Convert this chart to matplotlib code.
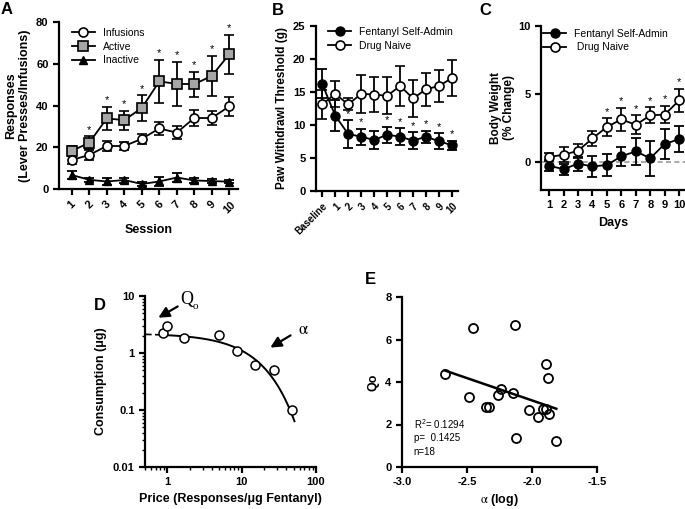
import numpy as np
import matplotlib
matplotlib.use("Agg")
import matplotlib.pyplot as plt
from matplotlib.ticker import LogLocator, NullFormatter

plt.rcParams['font.family'] = ['Liberation Sans', 'DejaVu Sans']
plt.rcParams['mathtext.fontset'] = 'stix'
plt.rcParams['axes.linewidth'] = 1.6

# --- A: self-administration
sessions = np.arange(1, 11)
inf_mean = [13.9, 16.3, 20.6, 20.6, 24.0, 29.0, 27.0, 34.0, 34.0, 39.6]
inf_err = [1.8, 2.5, 2.5, 2.0, 2.5, 3.0, 3.0, 4.0, 3.5, 4.5]
act_mean = [18.2, 22.2, 33.8, 33.0, 38.8, 51.5, 50.4, 50.2, 54.2, 64.5]
act_err = [2.2, 3.0, 5.5, 4.5, 6.0, 10.5, 10.5, 6.0, 9.7, 9.5]
inact_mean = [6.7, 4.4, 3.6, 4.3, 2.4, 3.6, 5.5, 4.1, 3.8, 3.5]
inact_err = [2.0, 1.0, 1.5, 1.2, 1.0, 2.0, 2.0, 1.0, 0.8, 0.7]
a_sig = [2, 3, 4, 5, 6, 7, 8, 9, 10]

# --- B: paw withdrawal
b_labels = ['Baseline', '1', '2', '3', '4', '5', '6', '7', '8', '9', '10']
b_fent = [16.2, 11.4, 8.6, 8.2, 7.7, 8.5, 8.2, 7.6, 8.2, 7.5, 6.9]
b_fent_err = [2.2, 2.4, 2.1, 1.2, 1.3, 1.2, 1.3, 1.3, 0.9, 1.2, 0.7]
b_naive = [13.1, 14.7, 13.1, 14.7, 14.6, 14.4, 15.9, 14.0, 15.4, 15.9, 17.1]
b_naive_err = [2.2, 2.0, 0.9, 2.9, 2.6, 2.8, 3.1, 2.8, 2.5, 2.4, 2.8]
b_sig = [2, 3, 5, 6, 7, 8, 9, 10]

# --- C: body weight
days = np.arange(1, 11)
c_fent = [-0.25, -0.5, -0.1, -0.3, -0.2, 0.45, 0.8, 0.3, 1.35, 1.7]
c_fent_err = [0.4, 0.4, 0.5, 0.8, 0.8, 0.7, 1.0, 1.3, 1.1, 0.95]
c_naive = [0.4, 0.55, 0.85, 1.75, 2.6, 3.15, 2.75, 3.45, 3.5, 4.55]
c_naive_err = [0.3, 0.55, 0.5, 0.55, 0.65, 0.85, 0.7, 0.6, 0.65, 0.85]
c_sig = [5, 6, 7, 8, 9, 10]

# --- D: demand curve
price = [0.886, 1.0, 1.67, 4.94, 8.6, 15.1, 26.9, 47.5]
consumption = [2.2, 3.0, 1.85, 2.03, 1.1, 0.61, 0.51, 0.10]
q0_fit = 2.2
decay_fit = 0.03  # log10 drop per unit price

# --- E: Q0 vs alpha
alpha_log = [-2.672, -2.456, -2.133, -2.485, -2.351, -2.333, -2.262, -2.238, -2.146,
             -2.026, -1.956, -1.913, -1.895, -1.872, -1.890, -1.879, -2.126, -1.813]
q0_vals = [4.36, 6.54, 6.67, 3.29, 2.82, 2.82, 3.37, 3.65, 3.48,
           2.70, 2.37, 2.71, 2.71, 2.48, 4.83, 4.17, 1.36, 1.21]

W, H = 685, 509
fig = plt.figure(figsize=(W / 100, H / 100), dpi=100)


def px_axes(left, top, right, bottom):
    return fig.add_axes([left / W, 1 - bottom / H, (right - left) / W, (bottom - top) / H])


def style(ax):
    for s in ['top', 'right']:
        ax.spines[s].set_visible(False)
    ax.tick_params(direction='out', length=4, width=1.6, labelsize=8)
    for lab in ax.get_xticklabels() + ax.get_yticklabels():
        lab.set_fontweight('bold')


eb = dict(color='k', lw=1.3, capsize=3.5, capthick=1.3, elinewidth=1.3)


def stars(ax, xs, ys, sig):
    for x, y in zip(xs, ys):
        if x in sig:
            ax.annotate('*', (x, y), xytext=(0, 1), textcoords='offset points',
                        ha='center', va='bottom', fontsize=8)


# A
ax = px_axes(59, 22, 238, 189)
ax.errorbar(sessions, inact_mean, yerr=inact_err, marker='^', ms=6, mfc='k', mec='k', **eb)
ax.errorbar(sessions, act_mean, yerr=act_err, marker='s', ms=6.5, mfc='#a6a6a6', mec='k', mew=1.2, **eb)
ax.errorbar(sessions, inf_mean, yerr=inf_err, marker='o', ms=6.5, mfc='white', mec='k', mew=1.2, **eb)
stars(ax, sessions, np.array(act_mean) + np.array(act_err), a_sig)
h1, = ax.plot([], [], 'k-', marker='o', ms=6.5, mfc='white', mew=1.2, lw=1.3, label='Infusions')
h2, = ax.plot([], [], 'k-', marker='s', ms=6.5, mfc='#a6a6a6', mew=1.2, lw=1.3, label='Active')
h3, = ax.plot([], [], 'k-', marker='^', ms=6, mfc='k', lw=1.3, label='Inactive')
ax.legend(handles=[h1, h2, h3], loc='upper left', bbox_to_anchor=(0.02, 1.02), frameon=False,
          fontsize=7.5, handlelength=2.2, handletextpad=0.8, labelspacing=0.35)
ax.set_xlim(0.27, 10.5)
ax.set_ylim(0, 80)
ax.set_xticks(sessions)
ax.set_yticks([0, 20, 40, 60, 80])
style(ax)
ax.set_xticklabels([str(s) for s in sessions], rotation=45, ha='center', fontweight='bold')
ax.set_xlabel('Session', fontsize=9, fontweight='bold', labelpad=6)
ax.set_ylabel('Responses\n(Lever Presses/Infusions)', fontsize=9, fontweight='bold', labelpad=4)

# B
ax = px_axes(316, 26, 458, 190.7)
bx = np.arange(len(b_labels))
ax.errorbar(bx, b_naive, yerr=b_naive_err, marker='o', ms=6.5, mfc='white', mec='k', mew=1.2, **eb)
ax.errorbar(bx, b_fent, yerr=b_fent_err, marker='o', ms=6.5, mfc='k', mec='k', **eb)
stars(ax, bx, np.array(b_fent) + np.array(b_fent_err), b_sig)
g1, = ax.plot([], [], 'k-', marker='o', ms=6.5, mfc='k', lw=1.3, label='Fentanyl Self-Admin')
g2, = ax.plot([], [], 'k-', marker='o', ms=6.5, mfc='white', mew=1.2, lw=1.3, label='Drug Naive')
ax.legend(handles=[g1, g2], loc='upper left', bbox_to_anchor=(0.02, 1.05), frameon=False,
          fontsize=7.5, handlelength=2.2, handletextpad=0.8, labelspacing=0.35)
ax.set_xlim(-0.48, 10.46)
ax.set_ylim(0, 25)
ax.set_xticks(bx)
ax.set_yticks([0, 5, 10, 15, 20, 25])
style(ax)
ax.set_xticklabels(b_labels, rotation=45, ha='right', rotation_mode='anchor', fontsize=7, fontweight='bold')
ax.set_ylabel('Paw Withdrawl Threshold (g)', fontsize=8.5, fontweight='bold', labelpad=4)

# C
ax = px_axes(541, 26, 685, 189.6)
ax.axhline(0, color='#999999', lw=1.2, ls=(0, (3, 2)), zorder=0)
ax.errorbar(days, c_naive, yerr=c_naive_err, marker='o', ms=6.5, mfc='white', mec='k', mew=1.2, **eb)
ax.errorbar(days, c_fent, yerr=c_fent_err, marker='o', ms=6.5, mfc='k', mec='k', **eb)
stars(ax, days, np.array(c_naive) + np.array(c_naive_err), c_sig)
k1, = ax.plot([], [], 'k-', marker='o', ms=6.5, mfc='k', lw=1.3, label='Fentanyl Self-Admin')
k2, = ax.plot([], [], 'k-', marker='o', ms=6.5, mfc='white', mew=1.2, lw=1.3, label=' Drug Naive')
ax.legend(handles=[k1, k2], loc='upper left', bbox_to_anchor=(-0.05, 1.04), frameon=False,
          fontsize=7.5, handlelength=2.2, handletextpad=0.8, labelspacing=0.35)
ax.set_xlim(0.44, 10.4)
ax.set_ylim(-2, 10)
ax.set_xticks(days)
ax.set_yticks([0, 5, 10])
style(ax)
ax.set_xlabel('Days', fontsize=9, fontweight='bold', labelpad=5)
ax.set_ylabel('Body Weight\n(% Change)', fontsize=8.5, fontweight='bold', labelpad=2)

# D
ax = px_axes(145, 296, 316, 467)
ax.set_xscale('log')
ax.set_yscale('log')
p_solid = np.geomspace(min(price), max(price) * 1.08, 200)
p_dash = np.geomspace(0.5, min(price), 20)
ax.plot(p_solid, q0_fit * 10 ** (-decay_fit * p_solid), 'k-', lw=1.4)
ax.plot(p_dash, q0_fit * 10 ** (-decay_fit * p_dash), 'k--', lw=1.2, dashes=(4, 2))
ax.plot(price, consumption, 'o', ms=6.5, mfc='white', mec='k', mew=1.1, zorder=3)
ax.set_xlim(0.5, 100)
ax.set_ylim(0.01, 10)
ax.set_xticks([1, 10, 100])
ax.set_xticklabels(['1', '10', '100'])
ax.set_yticks([0.01, 0.1, 1, 10])
ax.set_yticklabels(['0.01', '0.1', '1', '10'])
ax.xaxis.set_minor_locator(LogLocator(base=10, subs=np.arange(2, 10)))
ax.yaxis.set_minor_locator(LogLocator(base=10, subs=np.arange(2, 10)))
ax.xaxis.set_minor_formatter(NullFormatter())
ax.yaxis.set_minor_formatter(NullFormatter())
style(ax)
ax.tick_params(which='minor', length=2.5, width=1.0)
ax.annotate('', xy=(0.064, 0.865), xytext=(0.205, 0.947), xycoords='axes fraction',
            arrowprops=dict(arrowstyle='-|>', color='k', lw=1.6, mutation_scale=16))
ax.text(0.244, 0.977, 'Q', transform=ax.transAxes, ha='center', va='center',
        fontsize=13, family='Liberation Serif')
ax.text(0.292, 0.936, 'o', transform=ax.transAxes, ha='center', va='center',
        fontsize=8, family='Liberation Serif')
ax.annotate('', xy=(0.719, 0.69), xytext=(0.865, 0.778), xycoords='axes fraction',
            arrowprops=dict(arrowstyle='-|>', color='k', lw=1.6, mutation_scale=16))
ax.text(0.924, 0.807, r'$\mathrm{\alpha}$', transform=ax.transAxes, ha='center', va='center', fontsize=12)
ax.set_xlabel('Price (Responses/μg Fentanyl)', fontsize=9, fontweight='bold', labelpad=4)
ax.set_ylabel('Consumption (μg)', fontsize=9, fontweight='bold', labelpad=4)

# E
ax = px_axes(402, 297, 597, 467)
ax.plot(alpha_log, q0_vals, 'o', ms=6.5, mfc='none', mec='k', mew=1.3)
slope, icpt = np.polyfit(alpha_log, q0_vals, 1)
xl = np.array([min(alpha_log), max(alpha_log)])
ax.plot(xl, slope * xl + icpt, 'k-', lw=1.8)
ax.set_xlim(-3.0, -1.5)
ax.set_ylim(0, 8)
ax.set_xticks([-3.0, -2.5, -2.0, -1.5])
ax.set_xticklabels(['-3.0', '-2.5', '-2.0', '-1.5'])
ax.set_yticks([0, 2, 4, 6, 8])
style(ax)
ax.text(0.06, 0.25, r'$\mathregular{R^2}$= 0.1294', transform=ax.transAxes, fontsize=7, va='center')
ax.text(0.06, 0.17, 'p=  0.1425', transform=ax.transAxes, fontsize=7, va='center')
ax.text(0.06, 0.09, 'n=18', transform=ax.transAxes, fontsize=7, va='center')
ax.set_xlabel(r'$\mathrm{\alpha}$ (log)', fontsize=9, fontweight='bold', labelpad=3)
ax.set_ylabel('Qo', fontsize=9, fontweight='bold', labelpad=4)

for lab, (x, y) in zip('ABCDE', [(1, 2), (272, 3), (479, 3), (94, 298), (365, 272)]):
    fig.text(x / W, 1 - y / H, lab, fontsize=12, fontweight='bold', ha='left', va='top')

fig.savefig('out.png', dpi=100)
